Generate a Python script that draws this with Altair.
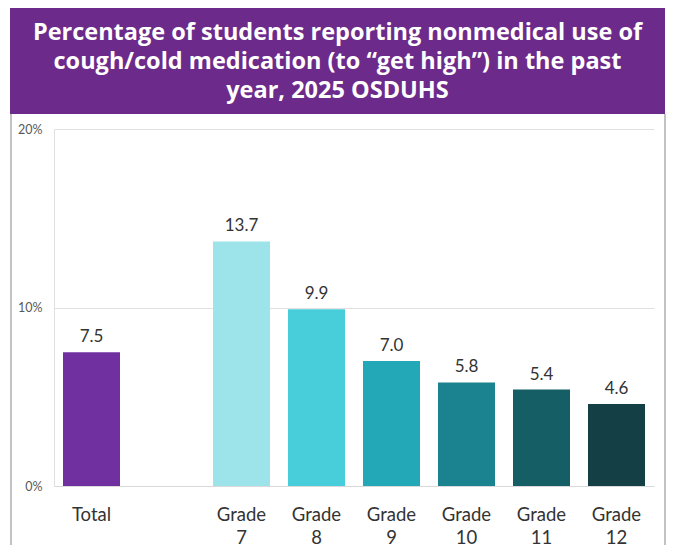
import altair as alt
import pandas as pd

CATEGORIES = ["Total", "Grade 7", "Grade 8", "Grade 9", "Grade 10", "Grade 11", "Grade 12"]
VALUES = [7.5, 13.7, 9.9, 7.0, 5.8, 5.4, 4.6]
COLORS = ["#7030A0", "#9DE3EA", "#48CEDB", "#22A8B6", "#1B8290", "#155E66", "#133F45"]
SPACER = " "
X_DOMAIN = [CATEGORIES[0], SPACER] + CATEGORIES[1:]
Y_TICKS = [0, 10, 20]
TITLE_LINES = [
    "Percentage of students reporting nonmedical use of",
    "cough/cold medication (to \u201cget high\u201d) in the past",
    "year, 2025 OSDUHS",
]

df = pd.DataFrame({
    "category": CATEGORIES,
    "value": VALUES,
    "label": [f"{v:.1f}" for v in VALUES],
})

W, H = 600, 357
BANNER = "#6C2A8A"

x_enc = alt.X(
    "category:N",
    sort=X_DOMAIN,
    scale=alt.Scale(domain=X_DOMAIN, paddingInner=0.24, paddingOuter=0.12),
    axis=alt.Axis(
        title=None, labelAngle=0, labelExpr="split(datum.label, ' ')",
        labelFontSize=18.5, labelColor="#333333", labelFont="Lato",
        labelPadding=19, labelLineHeight=23, ticks=False,
        domainColor="#d9d9d9", labelBaseline="top",
    ),
)
y_enc = alt.Y(
    "value:Q",
    scale=alt.Scale(domain=[0, 20]),
    axis=alt.Axis(
        title=None, values=Y_TICKS, labelExpr="datum.value + '%'",
        labelFontSize=12.5, labelColor="#595959", labelFont="Lato",
        labelPadding=12, ticks=False, domainColor="#e0e0e0",
        gridColor="#e0e0e0",
    ),
)

bars = alt.Chart(df).mark_bar().encode(
    x=x_enc,
    y=y_enc,
    color=alt.Color("category:N", scale=alt.Scale(domain=CATEGORIES, range=COLORS), legend=None),
)

labels = alt.Chart(df).mark_text(
    baseline="bottom", dy=-6, fontSize=17, color="#333333", font="Lato"
).encode(x=x_enc, y=y_enc, text="label:N")

deco = alt.Data(values=[{}])
banner = alt.Chart(deco).mark_rect(color=BANNER).encode(
    x=alt.value(-44), x2=alt.value(611), y=alt.value(-121), y2=alt.value(-15)
)
title = alt.Chart(deco).mark_text(
    font="Open Sans", fontWeight="bold", fontSize=23.5, color="white",
    lineHeight=29, align="center", baseline="middle",
).encode(x=alt.value(283.5), y=alt.value(-96), text=alt.value(TITLE_LINES))
border_l = alt.Chart(deco).mark_rule(color="#9a9a9a", strokeWidth=1.2).encode(
    x=alt.value(-43), y=alt.value(-15), y2=alt.value(416)
)
border_r = alt.Chart(deco).mark_rule(color="#9a9a9a", strokeWidth=1.2).encode(
    x=alt.value(611), y=alt.value(-15), y2=alt.value(416)
)

chart = alt.layer(banner, title, border_l, border_r, bars, labels).properties(
    width=W, height=H,
    padding={"left": 2, "top": 0, "right": 0, "bottom": 0},
).configure_view(stroke=None)

chart.save("out.html", embed_options={"renderer": "svg", "actions": False})
